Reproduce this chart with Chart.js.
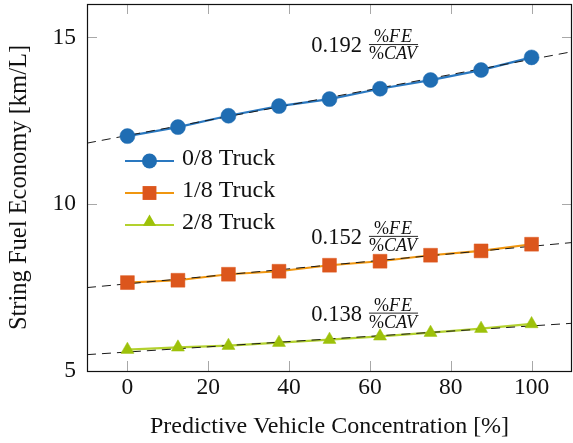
<!DOCTYPE html>
<html>
<head>
<meta charset="utf-8">
<script src="https://cdn.jsdelivr.net/npm/chart.js@4.4.1/dist/chart.umd.min.js"></script>
<style>
  html, body { margin: 0; padding: 0; background: #ffffff; }
  #wrap { width: 573px; height: 443px; }
</style>
</head>
<body>
<div id="wrap"><canvas id="c" width="573" height="443"></canvas></div>
<script>
// ---- data ----
const xValues = [0, 12.5, 25, 37.5, 50, 62.5, 75, 87.5, 100];
const truck0 = [12.04, 12.31, 12.65, 12.94, 13.15, 13.46, 13.72, 14.02, 14.40];
const truck1 = [7.65, 7.72, 7.90, 7.99, 8.17, 8.29, 8.47, 8.60, 8.80];
const truck2 = [5.64, 5.71, 5.76, 5.85, 5.94, 6.04, 6.15, 6.27, 6.41];
const fitX = [-10, 110];
const fit0 = [11.83, 14.57];
const fit1 = [7.50, 8.85];
const fit2 = [5.49, 6.43];
const seriesNames = ['0/8 Truck', '1/8 Truck', '2/8 Truck'];
const slopeLabels = ['0.192', '0.152', '0.138'];
const slopeLabelX = 45.5;
const slopeLabelY = [14.77, 9.02, 6.72];
const xTicks = [0, 20, 40, 60, 80, 100];
const yTicks = [5, 10, 15];

const lineColors = ['#2a78c0', '#f0960f', '#b3d12e'];
const markColors = ['#1f6db3', '#dc561c', '#9dc10a'];
const markStyles = ['circle', 'rect', 'triangle'];
const markRadius = [7.5, 9.8, 7.5];
const FONT = '"Liberation Serif", "Times New Roman", serif';

const pts = (xs, ys) => xs.map((x, i) => ({ x: x, y: ys[i] }));
const series = [truck0, truck1, truck2];
const fits = [fit0, fit1, fit2];

const datasets = [];
series.forEach((s, i) => {
  datasets.push({
    label: seriesNames[i], data: pts(xValues, s), borderColor: lineColors[i],
    borderWidth: 2.2, pointRadius: 0, showLine: true, order: 3, tension: 0
  });
});
fits.forEach((f, i) => {
  datasets.push({
    label: 'fit' + i, data: pts(fitX, f), borderColor: '#1a1a1a',
    borderWidth: 1, borderDash: [9, 6], pointRadius: 0, showLine: true, order: 2
  });
});
series.forEach((s, i) => {
  datasets.push({
    label: 'm' + i, data: pts(xValues, s), showLine: false,
    pointStyle: markStyles[i], pointRadius: markRadius[i],
    backgroundColor: markColors[i], borderColor: markColors[i], borderWidth: 0.5, order: 1
  });
});

function drawMarker(ctx, style, x, y, r, color) {
  ctx.save();
  ctx.fillStyle = color;
  ctx.beginPath();
  if (style === 'circle') {
    ctx.arc(x, y, r, 0, Math.PI * 2);
  } else if (style === 'rect') {
    const s = r * Math.SQRT1_2;
    ctx.rect(x - s, y - s, 2 * s, 2 * s);
  } else {
    ctx.moveTo(x, y - r);
    ctx.lineTo(x + r * 0.866, y + r * 0.5);
    ctx.lineTo(x - r * 0.866, y + r * 0.5);
    ctx.closePath();
  }
  ctx.fill();
  ctx.restore();
}

const framePlugin = {
  id: 'frame',
  afterDraw(chart) {
    const ctx = chart.ctx, a = chart.chartArea;
    const xs = chart.scales.x, ys = chart.scales.y;
    ctx.save();
    ctx.strokeStyle = '#a8a8a8';
    ctx.lineWidth = 1;
    const tl = 10;
    ctx.beginPath();
    xTicks.forEach(v => {
      const px = Math.round(xs.getPixelForValue(v)) + 0.5;
      ctx.moveTo(px, a.bottom); ctx.lineTo(px, a.bottom - tl);
      ctx.moveTo(px, a.top); ctx.lineTo(px, a.top + tl);
    });
    yTicks.forEach(v => {
      const py = Math.round(ys.getPixelForValue(v)) + 0.5;
      ctx.moveTo(a.left, py); ctx.lineTo(a.left + tl, py);
      ctx.moveTo(a.right, py); ctx.lineTo(a.right - tl, py);
    });
    ctx.stroke();
    ctx.strokeStyle = '#111';
    ctx.lineWidth = 1.2;
    ctx.strokeRect(Math.round(a.left) + 0.5, Math.round(a.top) + 0.5,
      Math.round(a.right - a.left) - 1, Math.round(a.bottom - a.top));
    ctx.restore();
  }
};

const legendPlugin = {
  id: 'customLegend',
  afterDraw(chart) {
    const ctx = chart.ctx;
    const x0 = 125, x1 = 174, rows = [161, 193, 225];
    ctx.save();
    seriesNames.forEach((name, i) => {
      const y = rows[i];
      ctx.strokeStyle = lineColors[i];
      ctx.lineWidth = 2.2;
      ctx.beginPath(); ctx.moveTo(x0, y); ctx.lineTo(x1, y); ctx.stroke();
      drawMarker(ctx, markStyles[i], (x0 + x1) / 2, i === 2 ? y - 3 : y, markRadius[i], markColors[i]);
      ctx.fillStyle = '#111';
      ctx.font = '24px ' + FONT;
      ctx.textBaseline = 'middle';
      ctx.textAlign = 'left';
      ctx.fillText(name, 182, y - 2);
    });
    ctx.restore();
  }
};

function drawRuns(ctx, runs, x, y, size) {
  let cx = x;
  runs.forEach(r => {
    ctx.font = (r[1] ? 'italic ' : '') + size + 'px ' + FONT;
    ctx.fillText(r[0], cx, y);
    cx += ctx.measureText(r[0]).width + (r[1] ? 1 : 0);
  });
  return cx - x;
}
function runsWidth(ctx, runs, size) {
  let w = 0;
  runs.forEach(r => {
    ctx.font = (r[1] ? 'italic ' : '') + size + 'px ' + FONT;
    w += ctx.measureText(r[0]).width + (r[1] ? 1 : 0);
  });
  return w;
}

const slopePlugin = {
  id: 'slopes',
  afterDraw(chart) {
    const ctx = chart.ctx, xs = chart.scales.x, ys = chart.scales.y;
    ctx.save();
    ctx.fillStyle = '#111';
    slopeLabels.forEach((lab, i) => {
      const px = xs.getPixelForValue(slopeLabelX);
      const py = ys.getPixelForValue(slopeLabelY[i]);
      ctx.font = '22.5px ' + FONT;
      ctx.textBaseline = 'middle';
      ctx.textAlign = 'left';
      ctx.fillText(lab, px, py + 1);
      const fx = px + ctx.measureText(lab).width + 7;
      const num = [['%', false], ['F', true], ['E', true]];
      const den = [['%', false], ['CAV', true]];
      const fs = 18;
      const wn = runsWidth(ctx, num, fs), wd = runsWidth(ctx, den, fs);
      const w = Math.max(wn, wd);
      ctx.textBaseline = 'alphabetic';
      drawRuns(ctx, num, fx + (w - wn) / 2, py - 3, fs);
      drawRuns(ctx, den, fx + (w - wd) / 2, py + 14, fs);
      ctx.strokeStyle = '#111';
      ctx.lineWidth = 0.9;
      ctx.beginPath(); ctx.moveTo(fx, py - 0.5); ctx.lineTo(fx + w, py - 0.5); ctx.stroke();
    });
    ctx.restore();
  }
};

new Chart(document.getElementById('c'), {
  type: 'scatter',
  data: { datasets: datasets },
  options: {
    responsive: false,
    animation: false,
    layout: { autoPadding: false, padding: { left: 0, right: 1, top: 4, bottom: 0 } },
    plugins: { legend: { display: false }, tooltip: { enabled: false } },
    scales: {
      x: {
        type: 'linear', min: -10, max: 110,
        afterBuildTicks: s => { s.ticks = xTicks.map(v => ({ value: v })); },
        afterFit: s => { s.height = 72; s.paddingLeft = 0; s.paddingRight = 0; },
        grid: { display: false, drawTicks: false },
        border: { display: false },
        ticks: { font: { family: FONT, size: 23.5 }, color: '#111', padding: 3, maxRotation: 0 },
        title: { display: true, text: 'Predictive Vehicle Concentration [%]', font: { family: FONT, size: 24 },
                 color: '#111', padding: { top: 0, bottom: 2 } }
      },
      y: {
        type: 'linear', min: 5, max: 16,
        afterBuildTicks: s => { s.ticks = yTicks.map(v => ({ value: v })); },
        afterFit: s => { s.width = 87; s.paddingTop = 0; s.paddingBottom = 0; },
        grid: { display: false, drawTicks: false },
        border: { display: false },
        ticks: { font: { family: FONT, size: 23.5 }, color: '#111', padding: 11 },
        title: { display: true, text: 'String Fuel Economy [km/L]', font: { family: FONT, size: 24.5 },
                 color: '#111', padding: { top: 5, bottom: 0 } }
      }
    }
  },
  plugins: [framePlugin, legendPlugin, slopePlugin]
});
</script>
</body>
</html>
